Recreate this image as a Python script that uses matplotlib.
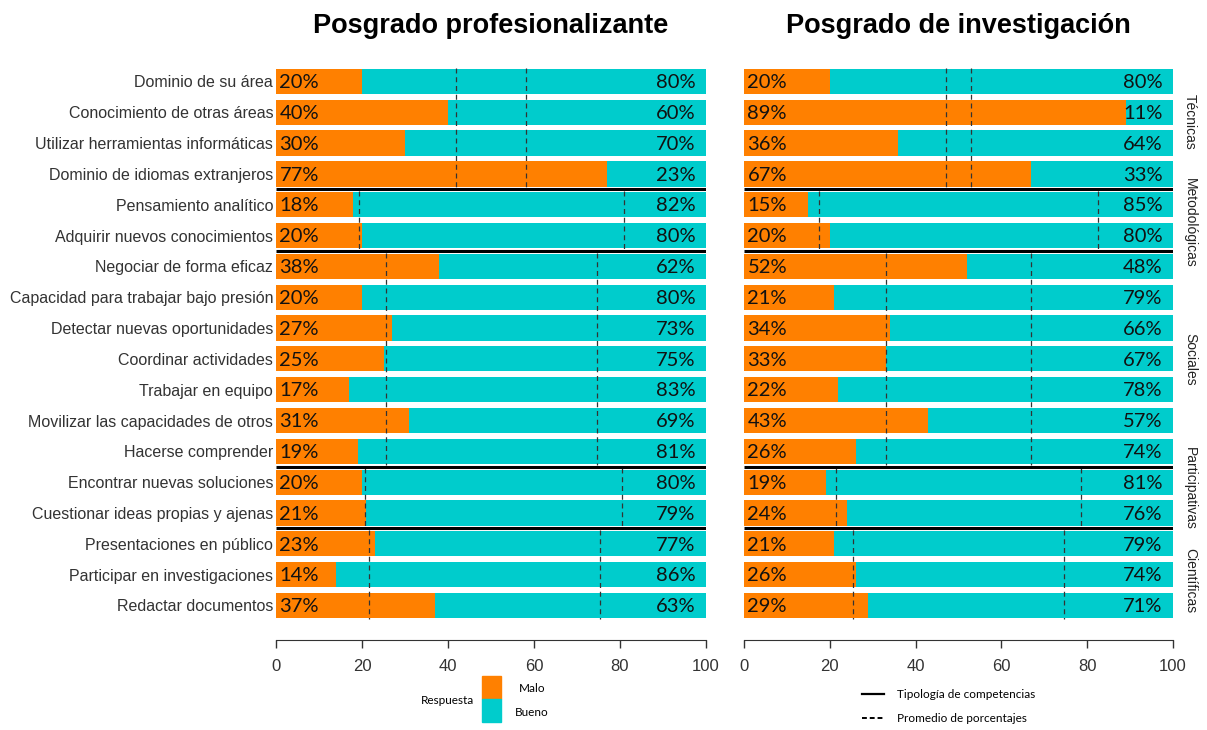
import matplotlib
matplotlib.use("Agg")
import matplotlib.pyplot as plt
from matplotlib.patches import Rectangle
from matplotlib.lines import Line2D
import numpy as np

# competencias (filas, de arriba a abajo)
competencias = [
    "Dominio de su área", "Conocimiento de otras áreas", "Utilizar herramientas informáticas",
    "Dominio de idiomas extranjeros", "Pensamiento analítico", "Adquirir nuevos conocimientos",
    "Negociar de forma eficaz", "Capacidad para trabajar bajo presión", "Detectar nuevas oportunidades",
    "Coordinar actividades", "Trabajar en equipo", "Movilizar las capacidades de otros",
    "Hacerse comprender", "Encontrar nuevas soluciones", "Cuestionar ideas propias y ajenas",
    "Presentaciones en público", "Participar en investigaciones", "Redactar documentos",
]
tipologias = ["Técnicas", "Metodológicas", "Sociales", "Participativas", "Científicas"]
n_por_tipo = [4, 2, 7, 2, 3]

prof_malo = [20, 40, 30, 77, 18, 20, 38, 20, 27, 25, 17, 31, 19, 20, 21, 23, 14, 37]
prof_bueno = [80, 60, 70, 23, 82, 80, 62, 80, 73, 75, 83, 69, 81, 80, 79, 77, 86, 63]
inv_malo = [20, 89, 36, 67, 15, 20, 52, 21, 34, 33, 22, 43, 26, 19, 24, 21, 26, 29]
inv_bueno = [80, 11, 64, 33, 85, 80, 48, 79, 66, 67, 78, 57, 74, 81, 76, 79, 74, 71]

# promedios (lineas discontinuas) por tipologia
prof_prom_malo = [41.75, 19.2, 25.6, 20.8, 21.6]
prof_prom_bueno = [58.25, 81.0, 74.7, 80.5, 75.3]
inv_prom_malo = [47.0, 17.5, 33.0, 21.5, 25.4]
inv_prom_bueno = [53.0, 82.6, 67.0, 78.6, 74.7]

NARANJA = "#FF8000"
TURQUESA = "#00CCCC"
W, H = 1207, 730

fig = plt.figure(figsize=(W / 100, H / 100), dpi=100)
ax1 = fig.add_axes([276 / W, 1 - 640 / H, 430 / W, 574 / H])
ax2 = fig.add_axes([744 / W, 1 - 640 / H, 429 / W, 574 / H])

y = np.arange(len(competencias))
bounds = np.cumsum([0] + n_por_tipo)


def panel(ax, malo, bueno, pm, pb, titulo):
    ax.barh(y, malo, height=0.82, color=NARANJA, linewidth=0)
    ax.barh(y, bueno, left=malo, height=0.82, color=TURQUESA, linewidth=0)
    for i in y:
        ax.text(0.8, i + 0.04, f"{malo[i]}%", va="center", ha="left", fontsize=14.5,
                family="Lato", color="#111111")
        ax.text(97.5, i + 0.04, f"{bueno[i]}%", va="center", ha="right", fontsize=14.5,
                family="Lato", color="#111111")
    for k in range(len(n_por_tipo)):
        y0, y1 = bounds[k] - 0.45, bounds[k + 1] - 1 + 0.45
        for xv in (pm[k], pb[k]):
            ax.plot([xv, xv], [y0, y1], color="#333333", lw=0.9, ls=(0, (4, 3)))
    for b in bounds[1:-1]:
        ax.plot([0, 100.4], [b - 0.5, b - 0.5], color="black", lw=2.2,
                solid_capstyle="butt")
    ax.set_xlim(0, 100)
    ax.set_ylim(18.12, -0.5)
    ax.set_xticks([0, 20, 40, 60, 80, 100])
    ax.set_xticklabels(["0", "20", "40", "60", "80", "100"], family="Liberation Sans")
    ax.tick_params(axis="x", labelsize=12, colors="#333333", length=6, width=1, pad=8)
    for s in ["top", "right", "left"]:
        ax.spines[s].set_visible(False)
    ax.spines["bottom"].set_color("#333333")
    ax.set_title(titulo, fontsize=19.5, fontweight="bold", family="Liberation Sans",
                 pad=0, y=1.0 + 33 / 574)


panel(ax1, prof_malo, prof_bueno, prof_prom_malo, prof_prom_bueno,
      "Posgrado profesionalizante")
panel(ax2, inv_malo, inv_bueno, inv_prom_malo, inv_prom_bueno,
      "Posgrado de investigación")

ax1.set_yticks(y)
ax1.set_yticklabels(competencias, family="Liberation Sans", fontsize=11.5, color="#333333")
ax1.tick_params(axis="y", length=0, pad=2)
ax2.set_yticks([])

# etiquetas de tipologia (posicion vertical en filas)
tipo_pos = [1.3, 4.6, 9.0, 13.2, 16.2]
for k, t in enumerate(tipologias):
    ax2.text(1.04, tipo_pos[k], t, transform=ax2.get_yaxis_transform(), rotation=-90,
             va="center", ha="center", fontsize=10, family="Liberation Sans",
             color="#222222")

# leyenda Respuesta
fig.text(448 / W, 1 - 700 / H, "Respuesta", ha="center", va="center", fontsize=8.5,
         family="Lato")
fig.patches.append(Rectangle((482 / W, 1 - 699 / H), 19 / W, 23 / H,
                             transform=fig.transFigure, color=NARANJA))
fig.patches.append(Rectangle((482 / W, 1 - 722 / H), 19 / W, 23 / H,
                             transform=fig.transFigure, color=TURQUESA))
fig.text(532 / W, 1 - 688 / H, "Malo", ha="center", va="center", fontsize=8.5, family="Lato")
fig.text(532 / W, 1 - 712 / H, "Bueno", ha="center", va="center", fontsize=8.5, family="Lato")

# leyenda lineas
fig.lines.append(Line2D([862 / W, 884 / W], [1 - 694 / H] * 2, transform=fig.transFigure,
                        color="black", lw=1.6))
fig.lines.append(Line2D([862 / W, 884 / W], [1 - 718 / H] * 2, transform=fig.transFigure,
                        color="black", lw=1.4, ls=(0, (2.5, 1.5))))
fig.text(897 / W, 1 - 694 / H, "Tipología de competencias", ha="left", va="center",
         fontsize=8.5, family="Lato")
fig.text(897 / W, 1 - 718 / H, "Promedio de porcentajes", ha="left", va="center",
         fontsize=8.5, family="Lato")

fig.savefig("out.png", dpi=100, facecolor="white")
